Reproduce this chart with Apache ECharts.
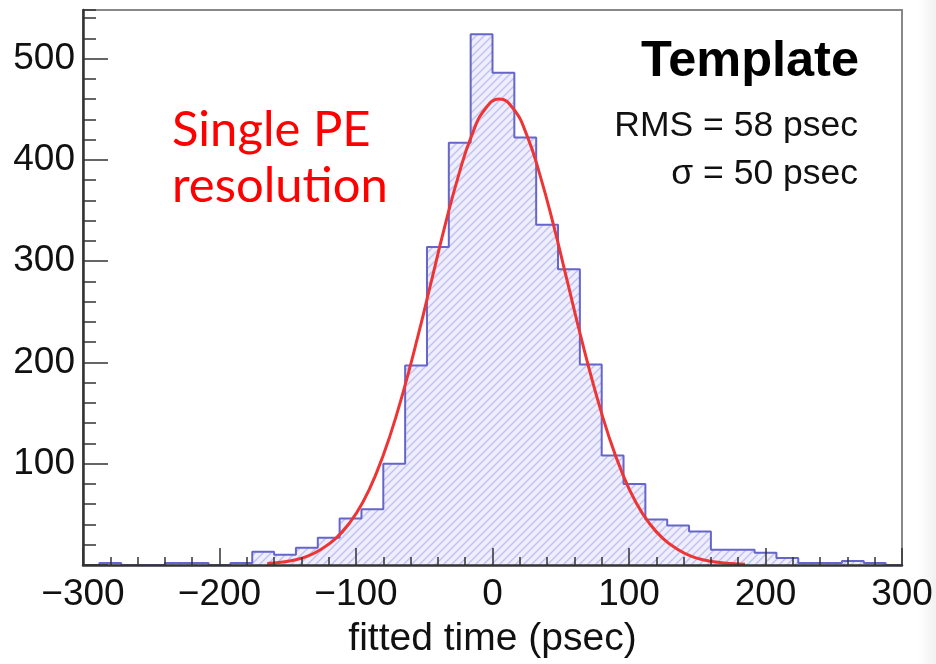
<!DOCTYPE html>
<html><head><meta charset="utf-8">
<script src="https://cdn.jsdelivr.net/npm/echarts@6/dist/echarts.min.js"></script>
<style>html,body{margin:0;padding:0;background:#fff}#c{width:936px;height:664px}</style>
</head><body><div id="c"></div>
<script>
// Histogram bins (lower edge, psec) and counts
const binWidth = 16;
const binLow = [-288,-272,-256,-240,-224,-208,-192,-176,-160,-144,-128,-112,-96,-80,-64,-48,-32,-16,
                0,16,32,48,64,80,96,112,128,144,160,176,192,208,224,240,256,272];
const counts = [2,0,0,2,2,0,2,13,10,17,27,46,55,100,197,314,417,524,
                486,422,336,292,198,108,80,45,39,33,15,15,12,7,2,2,4,2];
// Gaussian fit curve
const fitX = [-165,-155,-145,-135,-125,-115,-105,-95,-85,-75,-65,-55,-45,-35,-25,-15,-5,5,
              15,25,35,45,55,65,75,85,95,105,115,125,135,145,155,165,175,185];
const fitY = [1.4,2.8,5,9,16,26,41,62,91,128,173,224,279,334,384,425,451,460,
              451,425,384,334,279,224,173,128,91,62,41,26,16,9,5,2.8,1.4,0.7];
const xRange = [-300, 300];
const yRange = [0, 548];
const xTitle = 'fitted time (psec)';
const boxTitle = 'Template';
const statLines = ['RMS = 58 psec', 'σ = 50 psec'];
const noteLines = ['Single PE', 'resolution'];

function hatch(){
  const c = document.createElement('canvas'); c.width = 8; c.height = 8;
  const g = c.getContext('2d');
  g.fillStyle = '#eeeefd'; g.fillRect(0,0,8,8);
  g.strokeStyle = '#c2c2ef'; g.lineWidth = 1.5;
  g.beginPath();
  g.moveTo(-2,10); g.lineTo(10,-2);
  g.moveTo(-2,2); g.lineTo(2,-2);
  g.moveTo(6,10); g.lineTo(10,6);
  g.stroke();
  return c;
}

// outline polyline from bins
const outline = [[xRange[0],0],[binLow[0],0]];
binLow.forEach((lo,i)=>{ outline.push([lo,counts[i]]); outline.push([lo+binWidth,counts[i]]); });
outline.push([binLow[binLow.length-1]+binWidth,0]); outline.push([xRange[1],0]);

const fitData = fitX.map((x,i)=>[x,fitY[i]]);
const FONT = 'Liberation Sans, Arial, sans-serif';
const tickCol = '#333';

const chart = echarts.init(document.getElementById('c'), null, {renderer:'canvas'});
chart.setOption({
  animation:false,
  backgroundColor:'#fff',
  grid:{left:83,right:34,top:10,bottom:99,show:true,borderColor:'#888',borderWidth:2},
  xAxis:{type:'value',min:xRange[0],max:xRange[1],interval:100,z:10,
    axisLine:{show:true,onZero:false,lineStyle:{color:'#333',width:2.5}},
    axisTick:{show:true,inside:true,length:17,lineStyle:{color:tickCol,width:1.5}},
    minorTick:{show:true,splitNumber:5,length:8,lineStyle:{color:tickCol,width:1.5}},
    splitLine:{show:false},
    axisLabel:{fontSize:37,color:'#111',fontFamily:FONT,margin:11,
      formatter:v=> v<0 ? '\u2212'+Math.abs(v) : String(v)},
    name:xTitle,nameLocation:'middle',nameGap:55,
    nameTextStyle:{fontSize:39,color:'#111',fontFamily:FONT}
  },
  yAxis:[{type:'value',min:yRange[0],max:yRange[1],interval:100,z:10,
    axisLine:{show:true,onZero:false,lineStyle:{color:'#333',width:2.5}},
    axisTick:{show:true,inside:true,length:25,lineStyle:{color:tickCol,width:1.5}},
    splitLine:{show:false},
    axisLabel:{fontSize:37,color:'#111',fontFamily:FONT,margin:8,showMaxLabel:false,
      formatter:v=> (v>0 && v%100===0) ? String(v) : ''}
  },{type:'value',min:yRange[0],max:yRange[1],interval:20,position:'left',z:10,
    axisLine:{show:false,onZero:false},
    axisTick:{show:true,inside:true,length:13,lineStyle:{color:tickCol,width:1.5}},
    axisLabel:{show:false},splitLine:{show:false}
  }],
  series:[
    {type:'line',data:outline,symbol:'none',yAxisIndex:0,
      lineStyle:{color:'#6565cc',width:2},
      areaStyle:{color:{image:hatch(),repeat:'repeat'},opacity:1},z:2},
    {type:'line',data:fitData,symbol:'none',smooth:true,yAxisIndex:0,
      lineStyle:{color:'#ee3535',width:3},z:3}
  ],
  graphic:[
    {type:'rect',shape:{x:918,y:0,width:18,height:664},z:-5,silent:true,
      style:{fill:new echarts.graphic.LinearGradient(0,0,1,0,[{offset:0,color:'#ffffff'},{offset:1,color:'#f1f1f1'}])}},
    {type:'text',x:859,y:62,z:10,style:{text:boxTitle,fontSize:50.5,fontWeight:'bold',fontFamily:FONT,fill:'#000',align:'right',verticalAlign:'middle'}},
    {type:'text',x:858,y:126,z:10,style:{text:statLines[0],fontSize:35.5,fontFamily:FONT,fill:'#111',align:'right',verticalAlign:'middle'}},
    {type:'text',x:858,y:174,z:10,style:{text:statLines[1],fontSize:35.5,fontFamily:FONT,fill:'#111',align:'right',verticalAlign:'middle'}},
    {type:'text',x:172,y:130,z:10,style:{text:noteLines[0],fontSize:49,fontFamily:'Lato, sans-serif',fill:'#ff0000',align:'left',verticalAlign:'middle'}},
    {type:'text',x:172,y:186,z:10,style:{text:noteLines[1],fontSize:49,fontFamily:'Lato, sans-serif',fill:'#ff0000',align:'left',verticalAlign:'middle'}}
  ]
});
</script></body></html>
